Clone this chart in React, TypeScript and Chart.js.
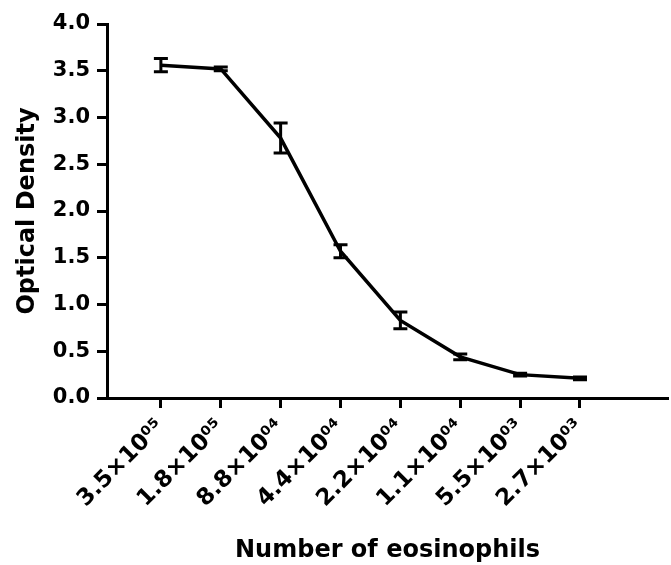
import React, { useEffect, useRef } from "react";
import { Chart, registerables } from "chart.js";

Chart.register(...registerables);

const categories = [
  "3.5×10⁰⁵",
  "1.8×10⁰⁵",
  "8.8×10⁰⁴",
  "4.4×10⁰⁴",
  "2.2×10⁰⁴",
  "1.1×10⁰⁴",
  "5.5×10⁰³",
  "2.7×10⁰³",
];
const means = [3.56, 3.52, 2.78, 1.57, 0.83, 0.44, 0.25, 0.21];
const errors = [0.07, 0.02, 0.16, 0.07, 0.09, 0.03, 0.015, 0.015];
const yTicks = [0, 0.5, 1, 1.5, 2, 2.5, 3, 3.5, 4];

const FONT = "'DejaVu Sans', 'Liberation Sans', Arial, sans-serif";

const errorBarPlugin = {
  id: "errorBars",
  afterDatasetsDraw(chart: any) {
    const { ctx, scales } = chart;
    const xs = scales.x;
    const ys = scales.y;
    ctx.save();
    ctx.strokeStyle = "#000";
    ctx.lineWidth = 3;
    ctx.lineCap = "butt";
    means.forEach((m, i) => {
      const x = xs.getPixelForValue(i + 1);
      const yt = ys.getPixelForValue(m + errors[i]);
      const yb = ys.getPixelForValue(m - errors[i]);
      const half = 7;
      ctx.beginPath();
      ctx.moveTo(x, yt);
      ctx.lineTo(x, yb);
      ctx.moveTo(x - half, yt);
      ctx.lineTo(x + half, yt);
      ctx.moveTo(x - half, yb);
      ctx.lineTo(x + half, yb);
      ctx.stroke();
    });
    ctx.restore();
  },
};

export default function App() {
  const ref = useRef<HTMLCanvasElement | null>(null);

  useEffect(() => {
    if (!ref.current) return;
    const chart = new Chart(ref.current, {
      type: "line",
      data: {
        datasets: [
          {
            data: means.map((m, i) => ({ x: i + 1, y: m })),
            borderColor: "#000",
            borderWidth: 3.5,
            pointRadius: 0,
            tension: 0,
            fill: false,
          },
        ],
      },
      options: {
        responsive: false,
        animation: false,
        layout: { padding: { top: 24, right: 3, left: 13, bottom: 0 } },
        plugins: { legend: { display: false }, tooltip: { enabled: false } },
        scales: {
          x: {
            type: "linear",
            min: 0.1,
            max: 9.47,
            afterBuildTicks: (scale: any) => {
              scale.ticks = categories.map((_, i) => ({ value: i + 1 }));
            },
            afterFit: (scale: any) => {
              scale.height = 167;
            },
            grid: {
              drawOnChartArea: false,
              drawTicks: true,
              tickLength: 10,
              tickWidth: 3,
              tickColor: "#000",
            },
            border: { display: true, color: "#000", width: 3 },
            ticks: {
              autoSkip: false,
              minRotation: 45,
              maxRotation: 45,
              padding: 6,
              color: "#000",
              font: { family: FONT, size: 23, weight: "bold" },
              callback: (v: any) => categories[Math.round(v) - 1] ?? "",
            },
            title: {
              display: true,
              text: "Number of eosinophils",
              color: "#000",
              padding: 0,
              font: { family: FONT, size: 24, weight: "bold", lineHeight: 1.2 },
            },
          },
          y: {
            min: 0,
            max: 4,
            afterBuildTicks: (scale: any) => {
              scale.ticks = yTicks.map((v) => ({ value: v }));
            },
            afterFit: (scale: any) => {
              scale.width = 94;
            },
            grid: {
              drawOnChartArea: false,
              drawTicks: true,
              tickLength: 10,
              tickWidth: 3,
              tickColor: "#000",
            },
            border: { display: true, color: "#000", width: 3 },
            ticks: {
              padding: 7,
              color: "#000",
              font: { family: FONT, size: 21, weight: "bold" },
              callback: (v: any) => Number(v).toFixed(1),
            },
            title: {
              display: true,
              text: "Optical Density",
              color: "#000",
              padding: 0,
              font: { family: FONT, size: 24, weight: "bold", lineHeight: 1.2 },
            },
          },
        },
      },
      plugins: [errorBarPlugin],
    });
    return () => chart.destroy();
  }, []);

  return (
    <div style={{ position: "fixed", left: 0, top: 0, width: 671, height: 565, background: "#fff" }}>
      <canvas ref={ref} width={671} height={565} style={{ width: 671, height: 565, display: "block" }} />
    </div>
  );
}
